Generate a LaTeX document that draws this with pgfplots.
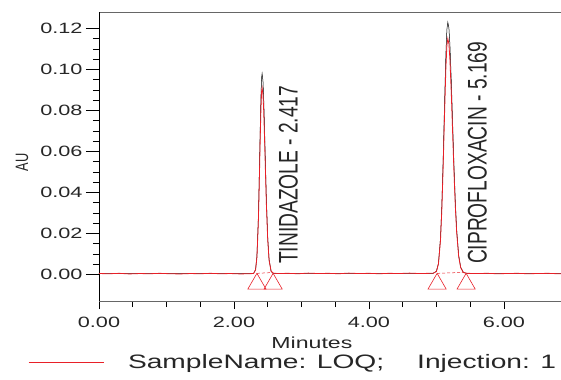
\documentclass[border=0pt]{standalone}
\usepackage{pgfplots}
\pgfplotsset{compat=1.18}
\usepackage{fontspec}
\setmainfont[FakeStretch=1.45]{Liberation Sans}
\newfontfamily\narrowfont[FakeStretch=0.714]{Liberation Sans}
\definecolor{trace}{RGB}{232,32,40}

\begin{document}
\begin{tikzpicture}
\begin{axis}[
  name=ax,
  scale only axis,
  width=467bp, height=289bp,
  xmin=0, xmax=6.92,
  ymin=-0.013, ymax=0.128,
  separate axis lines,
  axis x line*=box, axis y line*=left,
  x axis line style={black!60, line width=0.8bp},
  y axis line style={black, line width=0.8bp},
  xtick={0,2,4,6}, xticklabels={0.00,2.00,4.00,6.00},
  ytick={0,0.02,0.04,0.06,0.08,0.10,0.12},
  yticklabels={0.00,0.02,0.04,0.06,0.08,0.10,0.12},
  minor x tick num=3, minor y tick num=3,
  xtick pos=bottom, ytick pos=left,
  tick align=outside,
  major tick length=13bp, minor tick length=6bp,
  xtick style={/pgfplots/major tick length=8bp},
  tick style={black, line width=0.7bp},
  tick label style={font=\fontsize{15}{18}\selectfont, text=black!85},
  xlabel={Minutes},
  xlabel style={at={(axis description cs:0.456,-0.145)}, anchor=center, font=\fontsize{16}{18}\selectfont, text=black!85},
  ylabel={AU},
  ylabel style={at={(axis description cs:-0.165,0.48)}, anchor=center, font=\narrowfont\fontsize{18}{20}\selectfont, text=black!85},
  legend style={at={(axis description cs:-0.152,-0.211)}, anchor=west, draw=none, fill=none, inner sep=0pt, font=\fontsize{19.5}{22}\selectfont, text=black!85},
  legend image code/.code={\draw[#1] (0bp,0bp) -- (75bp,0bp);},
]
% black trace (underneath)
\addplot[black, line width=0.5bp, forget plot] coordinates {
(0.00,0.0004)(2.20,0.0003)(2.29,0.0004)
(2.32,0.0023)(2.34,0.0089)(2.36,0.0262)(2.37,0.0400)(2.38,0.0563)(2.39,0.0730)
(2.40,0.0873)(2.41,0.0962)(2.417,0.0980)(2.43,0.0942)(2.44,0.0862)(2.45,0.0751)
(2.46,0.0622)(2.48,0.0370)(2.50,0.0181)(2.52,0.0074)(2.55,0.0015)(2.58,0.0005)
(4.95,0.0005)(5.00,0.0015)(5.03,0.0054)(5.06,0.0176)(5.08,0.0337)(5.10,0.0565)
(5.12,0.0831)(5.14,0.1075)(5.155,0.1195)(5.169,0.1230)(5.185,0.1202)(5.20,0.1120)
(5.22,0.0948)(5.24,0.0740)(5.26,0.0533)(5.28,0.0354)(5.30,0.0218)(5.33,0.0092)
(5.36,0.0034)(5.40,0.0009)(5.45,0.0005)(6.92,0.0004)
};
% red trace
\addplot[trace, line width=0.8bp] coordinates {
(0.00,0.0004)(0.15,0.0003)(0.30,0.0005)(0.45,0.0002)(0.60,0.0004)(0.75,0.0003)
(0.90,0.0005)(1.05,0.0003)(1.20,0.0002)(1.35,0.0004)(1.50,0.0003)(1.65,0.0005)
(1.80,0.0003)(1.95,0.0004)(2.10,0.0002)(2.20,0.0003)(2.29,0.0004)
(2.32,0.0022)(2.34,0.0083)(2.36,0.0244)(2.37,0.0371)(2.38,0.0523)(2.39,0.0678)
(2.40,0.0811)(2.41,0.0894)(2.417,0.0910)(2.43,0.0875)(2.44,0.0801)(2.45,0.0697)
(2.46,0.0578)(2.48,0.0343)(2.50,0.0169)(2.52,0.0069)(2.55,0.0016)(2.58,0.0006)
(2.65,0.0004)(2.80,0.0005)(2.95,0.0003)(3.10,0.0006)(3.25,0.0004)(3.40,0.0005)
(3.55,0.0003)(3.70,0.0006)(3.85,0.0004)(4.00,0.0005)(4.15,0.0003)(4.30,0.0005)
(4.45,0.0004)(4.60,0.0006)(4.75,0.0004)(4.90,0.0005)(4.95,0.0005)
(5.00,0.0014)(5.03,0.0051)(5.06,0.0165)(5.08,0.0315)(5.10,0.0528)(5.12,0.0777)
(5.14,0.1005)(5.155,0.1117)(5.169,0.1150)(5.185,0.1124)(5.20,0.1047)(5.22,0.0886)
(5.24,0.0692)(5.26,0.0498)(5.28,0.0331)(5.30,0.0204)(5.33,0.0086)(5.36,0.0032)
(5.40,0.0009)(5.45,0.0005)(5.60,0.0004)(5.75,0.0005)(5.90,0.0003)(6.05,0.0004)
(6.20,0.0005)(6.35,0.0003)(6.50,0.0004)(6.65,0.0005)(6.80,0.0003)(6.92,0.0004)
};
\addlegendentry{\hspace{22bp}SampleName: LOQ;\hspace{33bp}Injection: 1}
% integration baselines
\addplot[trace, line width=0.5bp, densely dashed, forget plot] coordinates {(2.34,0.0005)(2.58,0.0009)};
\addplot[trace, line width=0.5bp, densely dashed, forget plot] coordinates {(5.01,0.0005)(5.44,0.0010)};
% peak start/end markers
\addplot[only marks, mark=triangle, mark size=10.5bp, mark options={trace, line width=0.6bp, yshift=-10.5bp}, forget plot] coordinates {
(2.34,0.0005)(2.58,0.0005)(5.01,0.0005)(5.44,0.0005)};
\node[rotate=90, anchor=south west, inner sep=0pt, font=\narrowfont\fontsize{27}{30}\selectfont, text=black!85] at (axis cs:2.95,0.005) {TINIDAZOLE - 2.417};
\node[rotate=90, anchor=south west, inner sep=0pt, font=\narrowfont\fontsize{27}{30}\selectfont, text=black!85] at (axis cs:5.75,0.005) {CIPROFLOXACIN - 5.169};
\end{axis}
\pgfresetboundingbox
\path[use as bounding box] ([xshift=-99bp,yshift=-79bp]ax.south west) rectangle ([xshift=462bp,yshift=301bp]ax.south west);
\end{tikzpicture}
\end{document}
